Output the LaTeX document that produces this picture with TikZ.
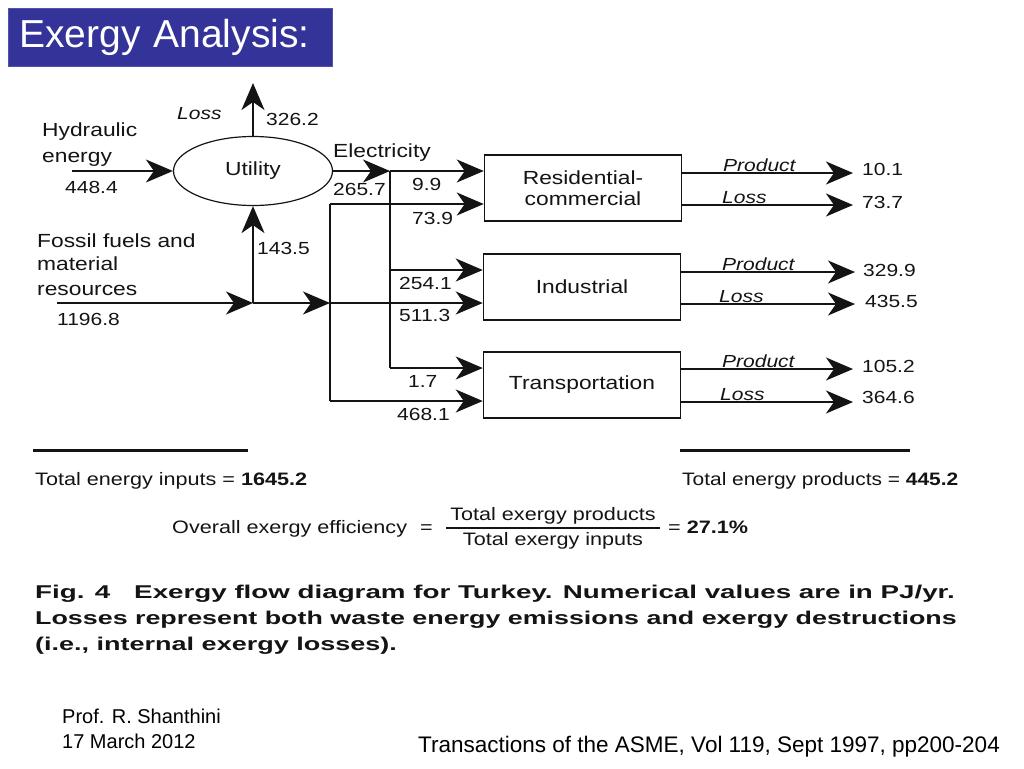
\documentclass[tikz,border=0pt]{standalone}
\usepackage{graphicx}
\usepackage{fontspec}
\setmainfont{Liberation Sans}
\newfontfamily\dfont[FakeStretch=1.2]{Liberation Sans}
\newfontfamily\cfont[FakeStretch=1.5]{Liberation Sans}
\usetikzlibrary{shapes.geometric,arrows.meta,calc}
\definecolor{titleblue}{RGB}{51,51,153}
\definecolor{ink}{RGB}{20,20,20}
\begin{document}
\begin{tikzpicture}[x=1pt,y=-1pt,
  lab/.style={font=\dfont\fontsize{19}{22}\selectfont, text=ink, inner sep=0pt, anchor=base west},
  num/.style={font=\dfont\fontsize{17.5}{20}\selectfont, text=ink, inner sep=0pt, anchor=base west},
  ital/.style={font=\dfont\itshape\fontsize{17.5}{20}\selectfont, text=ink, inner sep=0pt, anchor=base west},
  bot/.style={font=\dfont\fontsize{18}{21}\selectfont, text=ink, inner sep=0pt, anchor=base west},
  capt/.style={font=\cfont\bfseries\fontsize{18.5}{22}\selectfont, text=ink, inner sep=0pt, anchor=base west},
  foot/.style={font=\fontsize{20}{24}\selectfont, inner sep=0pt, anchor=base west},
  flow/.style={draw=ink, line width=1.5pt, -{Stealth[length=27pt,width=23pt,inset=8pt]}},
  plain/.style={draw=ink, line width=1.5pt},
  thick rule/.style={draw=ink, line width=3pt},
  sector/.style={draw=ink, line width=1.5pt, minimum width=197pt, minimum height=66pt, inner sep=0pt,
     align=center, font=\dfont\fontsize{19}{21}\selectfont, text=ink},
]
\useasboundingbox (0,0) rectangle (1024,768);
\fill[white] (0,0) rectangle (1024,768);

% title
\node[fill=titleblue, draw=titleblue!85!white, anchor=north west, text width=302pt, inner xsep=11pt,
      minimum height=58pt, align=left, text=white, font=\fontsize{39}{44}\selectfont] (title) at (8,8) {Exergy Analysis:};

% utility and sectors
\node[ellipse, draw=ink, line width=1.2pt, minimum width=159pt, minimum height=69pt, inner sep=0pt,
      font=\dfont\fontsize{19}{22}\selectfont, text=ink] (util) at (253,171) {Utility};
\node[sector] (res) at (583,188) {Residential-\\commercial};
\node[sector] (ind) at (582,287) {Industrial};
\node[sector] (tra) at (582,385) {Transportation};

% coordinates
\coordinate (hydtail) at (72,171);
\coordinate (losstip) at (253,83);
\coordinate (ej) at (390,171);
\coordinate (e2) at (390,270);
\coordinate (e3) at (390,368);
\coordinate (ftail) at (57,303);
\coordinate (fj) at (253,303);
\coordinate (fv) at (330,303);
\coordinate (f1) at (330,204);
\coordinate (f3) at (330,401);

% inputs
\draw[flow] (hydtail) -- (util.west);
\draw[flow] (util.north) -- (losstip);
\draw[flow] (util.east) -- (ej);
\draw[plain] (ej) -- (e3);
\draw[flow] (ej) -- (ej -| res.west);
\draw[flow] (e2) -- (e2 -| ind.west);
\draw[flow] (e3) -- (e3 -| tra.west);
\draw[flow] (ftail) -- (fj);
\draw[flow] (fj) -- (fv);
\draw[flow] (fj) -- (util.south);
\draw[plain] (f1) -- (f3);
\draw[flow] (f1) -- (f1 -| res.west);
\draw[flow] (fv) -- (fv -| ind.west);
\draw[flow] (f3) -- (f3 -| tra.west);

% outputs
\coordinate (rp) at (853,173);
\coordinate (rl) at (853,205);
\coordinate (ip) at (855,272);
\coordinate (il) at (855,304);
\coordinate (tp) at (853,369);
\coordinate (tl) at (853,402);
\draw[flow] (rp -| res.east) -- (rp);
\draw[flow] (rl -| res.east) -- (rl);
\draw[flow] (ip -| ind.east) -- (ip);
\draw[flow] (il -| ind.east) -- (il);
\draw[flow] (tp -| tra.east) -- (tp);
\draw[flow] (tl -| tra.east) -- (tl);

% left labels
\node[lab] (hyd1) at (42,136) {Hydraulic};
\node[lab] (hyd2) at (42,162) {energy};
\node[num] (hydv) at (65,193) {448.4};
\node[ital] (uloss) at (177,119) {Loss};
\node[num] (ulossv) at (266,125) {326.2};
\node[lab] (elec) at (333,157) {Electricity};
\node[num] (elecv) at (333,195) {265.7};
\node[num] (v99) at (412,190) {9.9};
\node[num] (v739) at (412,224) {73.9};
\node[num] (v2541) at (399,289) {254.1};
\node[num] (v5113) at (399,321) {511.3};
\node[num] (v17) at (408,387) {1.7};
\node[num] (v4681) at (397,420) {468.1};
\node[num] (v1435) at (257,254) {143.5};
\node[lab] (fos1) at (37,247) {Fossil fuels and};
\node[lab] (fos2) at (37,270) {material};
\node[lab] (fos3) at (37,295) {resources};
\node[num] (fosv) at (57,325) {1196.8};

% right labels
\node[ital] (rpl) at (723,171) {Product};
\node[ital] (rll) at (722,203) {Loss};
\node[num] (rpv) at (862,175) {10.1};
\node[num] (rlv) at (862,208) {73.7};
\node[ital] (ipl) at (722,270) {Product};
\node[ital] (ill) at (719,302) {Loss};
\node[num] (ipv) at (863,276) {329.9};
\node[num] (ilv) at (865,307) {435.5};
\node[ital] (tpl) at (722,367) {Product};
\node[ital] (tll) at (720,400) {Loss};
\node[num] (tpv) at (862,372) {105.2};
\node[num] (tlv) at (862,403) {364.6};

% totals
\coordinate (r1a) at (33,450); \coordinate (r1b) at (248,450);
\coordinate (r2a) at (680,450); \coordinate (r2b) at (910,450);
\draw[thick rule] (r1a) -- (r1b);
\draw[thick rule] (r2a) -- (r2b);
\node[bot] (tin) at (35,485) {Total energy inputs = \textbf{1645.2}};
\node[bot] (tpr) at (682,485) {\scalebox{0.968}[1]{Total energy products = \textbf{445.2}}};
\node[bot] (eff) at (172,533) {Overall exergy efficiency};
\node[bot] (eq1) at (420,533) {=};
\node[bot, anchor=base] (fnum) at (553,520) {Total exergy products};
\node[bot, anchor=base] (fden) at (553,545) {Total exergy inputs};
\coordinate (fba) at (446,528); \coordinate (fbb) at (660,528);
\draw[draw=ink, line width=1.2pt] (fba) -- (fbb);
\node[bot] (eq2) at (668,533) {= \textbf{27.1\%}};

% caption
\node[capt] (c1) at (35,598) {Fig. 4\hspace{24pt}Exergy flow diagram for Turkey. Numerical values are in PJ/yr.};
\node[capt] (c2) at (35,624) {\scalebox{0.967}[1]{Losses represent both waste energy emissions and exergy destructions}};
\node[capt] (c3) at (35,650) {\scalebox{0.973}[1]{(i.e., internal exergy losses).}};

% footer
\node[foot] (f1t) at (62,723) {Prof. R. Shanthini};
\node[foot] (f2t) at (62,748) {17 March 2012};
\node[foot, font=\fontsize{22.5}{26}\selectfont] (f3t) at (418,752) {Transactions of the ASME, Vol 119, Sept 1997, pp200-204};
\end{tikzpicture}
\end{document}
